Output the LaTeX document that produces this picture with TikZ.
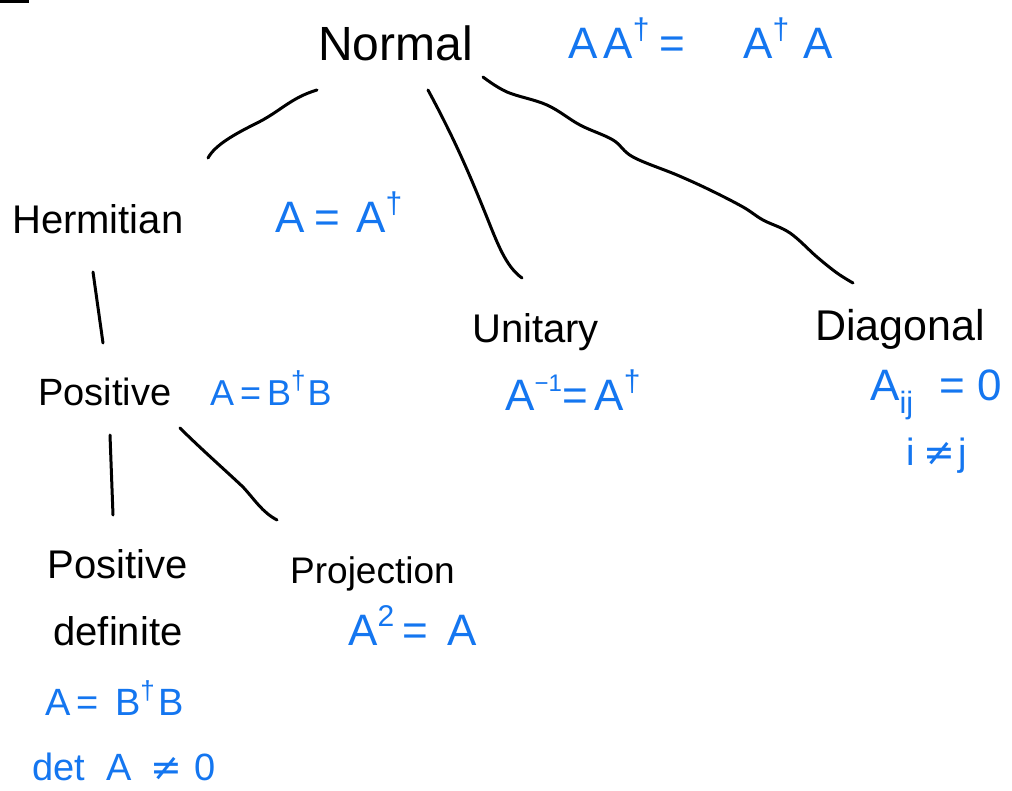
\documentclass[tikz,border=0pt]{standalone}
\usepackage{fontspec}
\setmainfont{Liberation Sans}
\newfontfamily\symfont{DejaVu Sans}
\definecolor{ink}{RGB}{20,118,240}
\newcommand{\dg}{\raisebox{0.42em}{\fontsize{30}{30}\selectfont †}}
\newcommand{\dgs}{\raisebox{0.42em}{\fontsize{26}{26}\selectfont †}}
\newcommand{\inv}{\raisebox{0.42em}{\fontsize{24}{24}\selectfont −1}}
\tikzset{
  lbl/.style={font=\fontsize{40}{67}\selectfont, inner sep=0pt, anchor=base west, text=black},
  eq/.style={font=\fontsize{44}{50}\selectfont, inner sep=0pt, anchor=base west, text=ink},
  conn/.style={line width=3pt, line cap=round, line join=round, draw=black}
}
\begin{document}
\begin{tikzpicture}[x=1pt,y=-1pt]
\useasboundingbox (0,0) rectangle (1012,790);
\fill[white] (0,0) rectangle (1012,790);
\fill[black] (0,0) rectangle (29,3);

% labels
\node[lbl, font=\fontsize{48}{56}\selectfont] (normal) at (318,60) {Normal};
\node[lbl] (herm) at (12,233) {Hermitian};
\node[lbl] (unit) at (472,342) {Unitary};
\node[lbl, font=\fontsize{43}{50}\selectfont] (diag) at (815,340) {Diagonal};
\node[lbl, font=\fontsize{38}{44}\selectfont] (pos) at (38,405) {Positive};
\node[lbl, anchor=center, align=center] (posdef) at (118,598) {Positive\\definite};
\node[lbl, font=\fontsize{37}{42}\selectfont] (proj) at (290,583) {Projection};

% formulas
\node[eq] (eqN) at (568,58) {A\hspace{6pt}A\dg\hspace{10pt}=\hspace{58pt}A\dg\hspace{14pt}A};
\node[eq] (eqH) at (275,232) {A\hspace{10pt}=\hspace{16pt}A\dg};
\node[eq] (eqU) at (505,410) {A\inv\hspace{1pt}=\hspace{6pt}A\dg};
\node[eq] (eqD1) at (870,400) {A\textsubscript{ij}\hspace{26pt}=\hspace{12pt}0};
\node[eq, anchor=base] (eqD2) at (937,465) {\fontsize{38}{44}\selectfont i\hspace{8pt}{\symfont ≠}\hspace{4pt}j};
\node[eq] (eqP) at (210,405) {\fontsize{36}{44}\selectfont A\,=\,B\dgs\hspace{2pt}B};
\node[eq] (eqPD1) at (45,715) {\fontsize{38}{44}\selectfont A\,=\hspace{16pt}B\dgs\hspace{4pt}B};
\node[eq] (eqPD2) at (32,780) {\fontsize{38}{44}\selectfont det\hspace{22pt}A\hspace{18pt}{\symfont ≠}\hspace{12pt}0};
\node[eq] (eqPr) at (348,645) {A\raisebox{0.42em}{\fontsize{30}{30}\selectfont 2}\hspace{8pt}=\hspace{20pt}A};

% connector end points
\coordinate (nh1) at (317,90);
\coordinate (nh2) at (208,158);
\coordinate (nu1) at (428,90);
\coordinate (nu2) at (522,278);
\coordinate (nd1) at (483,77);
\coordinate (nd2) at (853,283);
\coordinate (hp1) at (93,272);
\coordinate (hp2) at (103,343);
\coordinate (pd1) at (110,435);
\coordinate (pd2) at (113,515);
\coordinate (pj1) at (180,428);
\coordinate (pj2) at (277,520);

\draw[conn] (nh1) .. controls (290,98) and (280,112) .. (255,124) .. controls (235,134) and (215,145) .. (nh2);
\draw[conn] (nu1) .. controls (455,140) and (470,175) .. (490,225) .. controls (500,250) and (508,268) .. (nu2);
\draw[conn] plot[smooth, tension=0.6] coordinates {(nd1) (507,92) (547,105) (580,125) (613,140) (633,157) (677,175) (710,190) (743,207) (763,220) (790,233) (817,257) (837,273) (nd2)};
\draw[conn] (hp1) -- (hp2);
\draw[conn] (pd1) -- (pd2);
\draw[conn] (pj1) .. controls (200,448) and (225,470) .. (243,487) .. controls (255,500) and (262,512) .. (pj2);
\end{tikzpicture}
\end{document}
